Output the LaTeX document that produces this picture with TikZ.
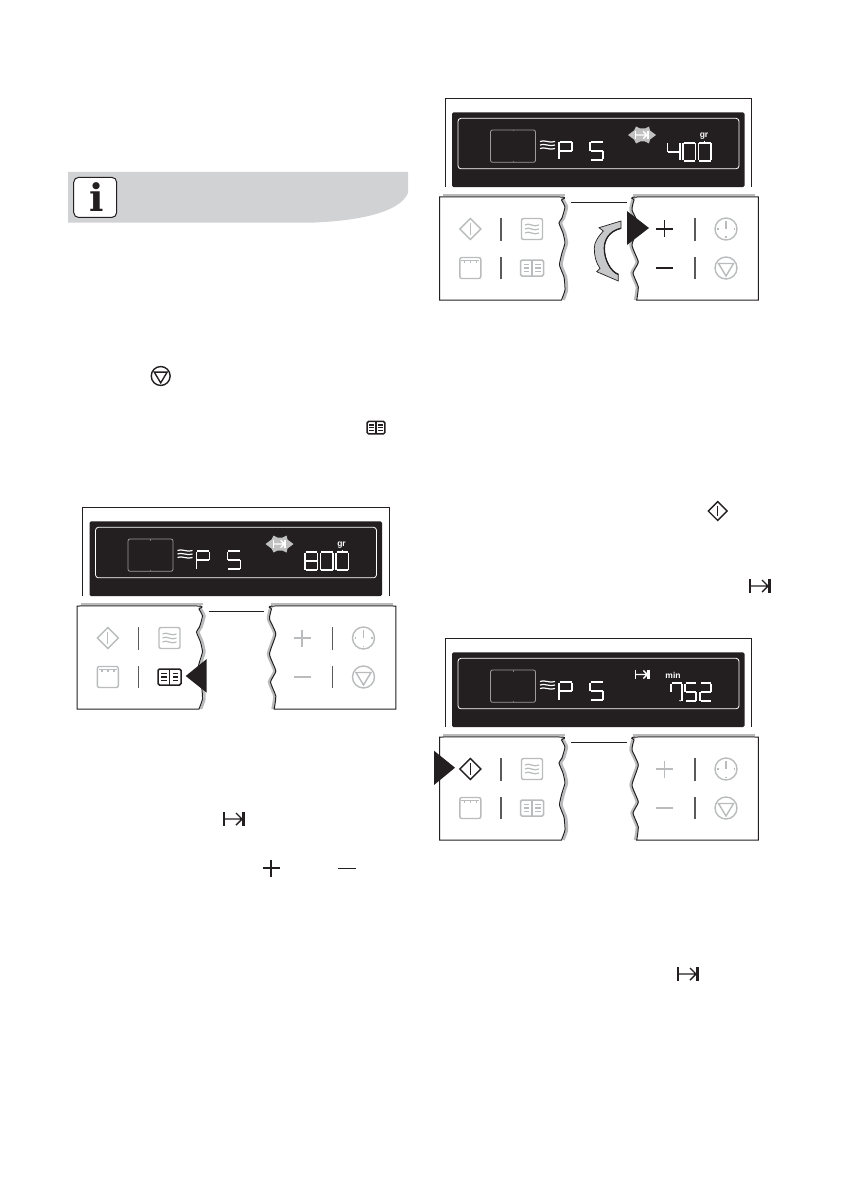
\documentclass[tikz,border=0pt]{standalone}
\usepackage{fontspec}
\setmainfont{Liberation Sans}
\newfontfamily\iconserif{DejaVu Serif}
\definecolor{ink}{HTML}{231F20}
\definecolor{dim}{HTML}{B9BBBC}
\definecolor{bar}{HTML}{5A5A5A}
\definecolor{edgegrey}{HTML}{B8BABC}
\definecolor{banner}{HTML}{D1D2D4}
\tikzset{
  seg/.style={white,line width=1.4pt},
  smalltext/.style={white,inner sep=0pt,font=\fontsize{8.5}{8.5}\selectfont\bfseries},
  pointer/.style={fill=ink,draw=none},
  edge/.style={ink,line width=1pt},
  rim/.style={edgegrey,line width=2.4pt},
}
% seven-segment pieces, drawn inside a shifted scope
\newcommand\dgA{\draw[seg] (.5,0)--(\dw-.5,0);}
\newcommand\dgB{\draw[seg] (\dw,.5)--(\dw,8.6);}
\newcommand\dgC{\draw[seg] (\dw,9.4)--(\dw,17.5);}
\newcommand\dgD{\draw[seg] (.5,18)--(\dw-.5,18);}
\newcommand\dgE{\draw[seg] (0,9.4)--(0,17.5);}
\newcommand\dgF{\draw[seg] (0,.5)--(0,8.6);}
\newcommand\dgG{\draw[seg] (.5,9)--(\dw-.5,9);}
\newcommand\segdigit[4]{\begin{scope}[shift={(#1,#2)}]\def\dw{#3}\foreach \s in {#4}{\csname dg\s\endcsname}\end{scope}}
% icons: centre x, centre y, colour, size factor
\newcommand\icnDiamond[4]{\begin{scope}[shift={(#1,#2)},scale=#4]
  \draw[#3,line width=1.4pt,line join=miter] (-10.5,0)--(0,-10.5)--(10.5,0)--(0,10.5)--cycle;
  \draw[#3,line width=1.2pt] (0,-6)--(0,6);\end{scope}}
\newcommand\icnStop[4]{\begin{scope}[shift={(#1,#2)},scale=#4]
  \draw[#3,line width=1.4pt] (0,0) circle (11);
  \draw[#3,line width=1.4pt,line join=miter] (-7.5,-4.5)--(7.5,-4.5)--(0,8)--cycle;\end{scope}}
\newcommand\icnClock[3]{\begin{scope}[shift={(#1,#2)}]
  \draw[#3,line width=1.4pt] (0,0) circle (11);
  \draw[#3,line width=1.2pt] (0,-8)--(0,0);
  \draw[#3,line width=1.4pt] (-9,0)--(-7.5,0) (7.5,0)--(9,0) (0,7.5)--(0,9);\end{scope}}
\newcommand\icnBook[4]{\begin{scope}[shift={(#1,#2)},scale=#4]
  \draw[#3,line width=1.5pt,rounded corners=1.5pt] (-11.5,-8) rectangle (11.5,8);
  \draw[#3,line width=1.3pt] (0,-8)--(0,8);
  \foreach \yy in {-3.5,0,3.5}{\draw[#3,line width=1.2pt] (-8.5,\yy)--(-3,\yy) (3,\yy)--(8.5,\yy);}
  \end{scope}}
\newcommand\icnWaves[3]{\begin{scope}[shift={(#1,#2)}]
  \draw[#3,line width=1.4pt,rounded corners=2pt] (-10.5,-10.5) rectangle (10.5,10.5);
  \foreach \yy in {-4,0,4}{\draw[#3,line width=1.2pt] (-7,\yy) .. controls (-3,\yy-3) and (2,\yy+3) .. (7,\yy);}
  \end{scope}}
\newcommand\icnOven[3]{\begin{scope}[shift={(#1,#2)}]
  \draw[#3,line width=1.4pt,rounded corners=2pt] (-10.5,-10.5) rectangle (10.5,10.5);
  \draw[#3,line width=1.2pt] (-9,-7.5)--(9,-7.5);
  \foreach \xx in {-6,0,6}{\draw[#3,line width=1.4pt] (\xx,-7.5)--(\xx,-5.3);}
  \end{scope}}
\newcommand\icnPlus[3]{\draw[#3,line width=1.6pt] (#1-8.5,#2)--(#1+8.5,#2) (#1,#2-8.5)--(#1,#2+8.5);}
\newcommand\icnMinus[3]{\draw[#3,line width=1.6pt] (#1-8.5,#2)--(#1+8.5,#2);}
\newcommand\icnTab[4]{\begin{scope}[shift={(#1,#2)},scale=#4]
  \draw[#3,line width=1.1pt] (-10,-7)--(-10,7);
  \draw[#3,line width=1.4pt] (-10,0)--(8,0) (2,-6)--(8,0)--(2,6);
  \draw[#3,line width=2.2pt] (9.5,-7)--(9.5,7);\end{scope}}
% one panel, in the coordinates of the upper right panel
\newcommand\panel[5]{\begin{scope}[shift={(#1,#2)}]
  \draw[ink,line width=1pt] (445.3,187)--(445.3,98.7)--(751.7,98.7)--(751.7,187);
  \fill[ink,rounded corners=1.5pt] (452,112.3) rectangle (744.5,187.2);
  \draw[white,line width=.8pt,rounded corners=3pt] (458,118.3) rectangle (739,168.8);
  \draw[white!55!ink,line width=.8pt,rounded corners=2pt] (490.5,130) rectangle (535.5,162.3);
  \draw[white!40!ink,line width=.8pt] (513,130)--(513,131.5) (513,160.8)--(513,162.3);
  \foreach \yy in {141.5,145,148.5}{\draw[white,line width=1.2pt] (540,\yy) .. controls (544,\yy-2.2) and (550,\yy+2.2) .. (555,\yy);}
  \segdigit{559}{142}{13}{A,B,E,F,G}
  \segdigit{590}{142}{13}{A,C,D,F,G}
  % lower control strips
  \draw[rim] (443,194.8)--(565.3,194.8);
  \draw[rim] (633,194.8)--(755,194.8);
  \draw[rim] plot[smooth,tension=.3] coordinates {(562,197)(563.5,200)(567,207)(564,218)(561,223)(565,233)(567,243)(564,253)(561.5,265)(566,277)(567,290)(563.5,300)};
  \draw[rim] plot[smooth,tension=.3] coordinates {(635,197)(632.5,200)(630.5,210)(636.8,225)(630.5,245)(636.8,262)(631.5,273)(636.8,287)(635,300)};
  \draw[edge] plot[smooth,tension=.3] coordinates {(439.5,197)(560,197)(561.5,200)(565,207)(562,218)(559,223)(563,233)(565,243)(562,253)(559.5,265)(564,277)(565,290)(561.5,300)} -- (439.5,300) -- cycle;
  \draw[edge] plot[smooth,tension=.3] coordinates {(758.3,197)(637,197)(634,200)(632,210)(638.3,225)(632,245)(638.3,262)(633,273)(638.3,287)(636.7,300)} -- (758.3,300) -- cycle;
  \draw[ink,line width=1.1pt] (571,202.7)--(626.7,202.7);
  % keys
  \foreach \xx in {501,695}{\draw[bar,line width=1.6pt] (\xx,218)--(\xx,241) (\xx,257)--(\xx,279);}
  \icnDiamond{470.3}{229}{#3}{1}
  \icnWaves{532}{229}{dim}
  \icnOven{470.3}{268}{dim}
  \icnBook{532}{268}{#4}{1}
  \icnPlus{664.5}{229}{#5}
  \icnMinus{664.5}{268}{#5}
  \icnClock{726}{229}{dim}
  \icnStop{726}{268}{dim}{1}
\end{scope}}
\newcommand\starbadge[3]{\begin{scope}[shift={(#1,#2)}]
  \fill[#3] (-14,0)--(-8,-4.5)--(-6,-8.5)--(-2,-6.5)--(3,-6.5)--(7,-8.5)--(8,-4.5)--(14,0)--(8,4.5)--(7,8.5)--(3,6.5)--(-2,6.5)--(-6,8.5)--(-8,4.5)--cycle;
  \icnTab{0}{0}{white}{.62}\end{scope}}
\begin{document}
\begin{tikzpicture}[x=1pt,y=-1pt]
\useasboundingbox (0,0) rectangle (840,1190);
\fill[white] (0,0) rectangle (840,1190);
% note banner
\fill[banner] (68,172)--(408,172)--(408,193) .. controls (400,212) and (360,221) .. (310,222.7)--(68,222.7)--cycle;
\draw[ink,fill=white,line width=1pt,rounded corners=5pt] (73.7,177.3) rectangle (116.7,217.5);
\node[inner sep=0pt,text=ink,font=\iconserif\bfseries\fontsize{38}{38}\selectfont] (infoglyph) at (96.5,197) {i};
% inline symbols
\icnStop{160.7}{376}{ink}{.86}
\icnBook{376}{427.7}{ink}{.78}
\icnTab{234}{819}{ink}{1}
\icnPlus{271}{868}{ink}
\draw[ink,line width=1pt] (338,868)--(356,868);
\icnDiamond{717.7}{511}{ink}{.9}
\icnTab{760}{586}{ink}{1}
\icnTab{688}{974}{ink}{1}
% upper right
\panel{0}{0}{dim}{dim}{ink}
\starbadge{642}{135}{white!72!ink}
\node[smalltext] (grA) at (704,136) {gr};
\segdigit{667.5}{143}{12.5}{B,C,F,G}
\segdigit{683}{143}{12.5}{A,B,C,D,E,F}
\segdigit{698.5}{143}{12.5}{A,B,C,D,E,F}
\draw[white,line width=.8pt] (704.7,141)--(704.7,143);
\fill[pointer] (627,211)--(649,228)--(627,245)--cycle;
\filldraw[fill=edgegrey!80!white,draw=ink,line width=.7pt] (621,221)--(599,227.7)--(603.3,231) .. controls (597,238) and (594.3,243) .. (594.3,248.3) .. controls (594.3,256) and (596,263) .. (600,268.3)--(596.7,271.7)--(618.3,281)--(618.3,274.3) .. controls (611,272) and (604.3,260) .. (604.3,248.3) .. controls (604.3,240) and (609,231) .. (621,228.3)--cycle;
\draw[ink,line width=1.3pt] (621,228.3) .. controls (609,231) and (604.3,240) .. (604.3,248.3) .. controls (604.3,260) and (611,272) .. (618.3,274.3);
% lower left
\panel{-362.5}{409}{dim}{ink}{dim}
\starbadge{279.5}{544}{white!72!ink}
\node[smalltext] (grB) at (341.5,545) {gr};
\segdigit{305}{552}{12.5}{A,B,C,D,E,F,G}
\segdigit{320.5}{552}{12.5}{A,B,C,D,E,F}
\segdigit{336}{552}{12.5}{A,B,C,D,E,F}
\draw[white,line width=.8pt] (342.2,550)--(342.2,552);
\fill[pointer] (185.7,676)--(206.7,659)--(206.7,692.7)--cycle;
% lower right
\panel{0}{540}{ink}{dim}{dim}
\icnTab{642}{674.5}{white}{.68}
\node[smalltext] (minC) at (673,675) {min};
\segdigit{671}{683}{11}{A,B,C,F}
\fill[white] (680,700.7) circle (.8);
\segdigit{685}{683}{11}{A,C,D,F,G}
\segdigit{700}{683}{11}{A,B,D,E,G}
\fill[pointer] (434,750.7)--(455,767.7)--(434,785)--cycle;
\end{tikzpicture}
\end{document}
